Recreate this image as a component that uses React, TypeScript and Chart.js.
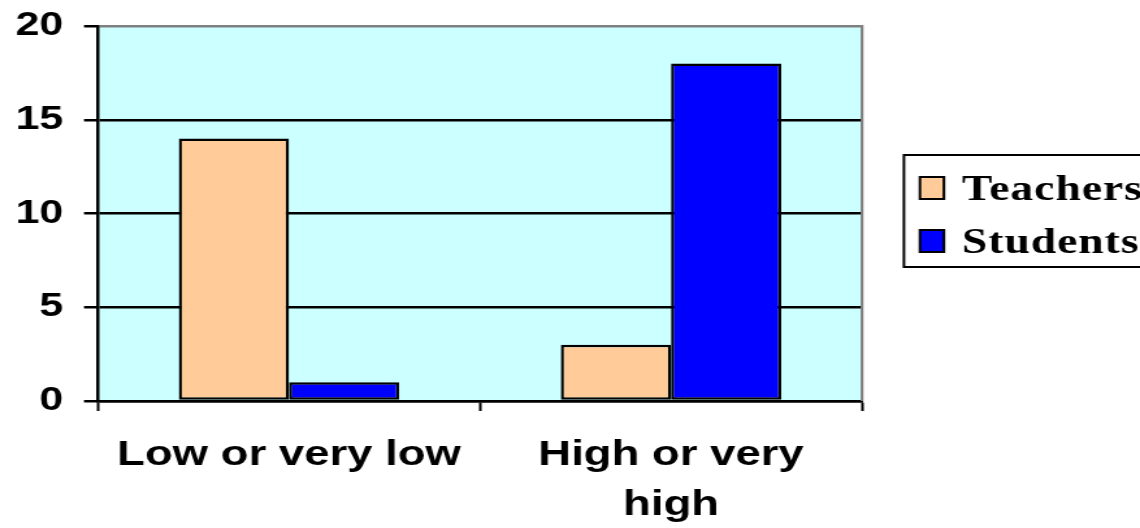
import React, { useEffect, useRef } from "react";
import { Chart, registerables } from "chart.js";

Chart.register(...registerables);

const categories: string[][] = [["Low or very low"], ["High or very", "high"]];
const teachers = [14, 3];
const students = [1, 18];
const seriesNames = ["Teachers", "Students"];
const seriesColors = ["#FFCC99", "#0000FF"];
const yMin = 0;
const yMax = 20;
const yStep = 5;

// horizontal stretch of the reference rendering
const SX = 1.3;
const W = Math.round(1140 / SX);
const H = 528;

const bgPlugin = {
  id: "plotBg",
  beforeDraw(chart: any) {
    const { ctx, chartArea } = chart;
    ctx.save();
    ctx.fillStyle = "#CCFFFF";
    ctx.fillRect(chartArea.left, chartArea.top, chartArea.right - chartArea.left, chartArea.bottom - chartArea.top);
    ctx.restore();
  },
  afterDraw(chart: any) {
    const { ctx, chartArea } = chart;
    ctx.save();
    ctx.strokeStyle = "#808080";
    ctx.lineWidth = 2.2;
    ctx.beginPath();
    ctx.moveTo(chartArea.right, chartArea.top - 1);
    ctx.lineTo(chartArea.right, chartArea.bottom);
    ctx.stroke();

    // legend
    const bx = 904 / SX;
    const by = 155;
    const bw = 1150 / SX - bx;
    const bh = 112;
    ctx.fillStyle = "#FFFFFF";
    ctx.fillRect(bx, by, bw, bh);
    ctx.strokeStyle = "#000000";
    ctx.lineWidth = 2;
    ctx.strokeRect(bx, by, bw, bh);
    const rows = [
      { sy: 177, base: 200 },
      { sy: 230, base: 253 },
    ];
    seriesNames.forEach((name, i) => {
      const r = rows[i];
      ctx.fillStyle = seriesColors[i];
      ctx.fillRect(920 / SX, r.sy, 24 / SX, 22);
      ctx.lineWidth = 2;
      ctx.strokeStyle = "#000";
      ctx.strokeRect(920 / SX, r.sy, 24 / SX, 22);
      ctx.fillStyle = "#000";
      ctx.font = "bold 35px 'Liberation Serif'";
      ctx.textAlign = "left";
      ctx.textBaseline = "alphabetic";
      (ctx as any).letterSpacing = "0.8px";
      ctx.fillText(name, 962 / SX, r.base);
      (ctx as any).letterSpacing = "0px";
    });
    ctx.restore();
  },
};

export default function App() {
  const ref = useRef<HTMLCanvasElement | null>(null);
  useEffect(() => {
    if (!ref.current) return;
    const chart = new Chart(ref.current, {
      type: "bar",
      data: {
        labels: categories as any,
        datasets: [
          {
            label: seriesNames[0],
            data: teachers,
            backgroundColor: seriesColors[0],
            borderColor: "#000",
            borderWidth: 2.4,
            borderSkipped: false,
          },
          {
            label: seriesNames[1],
            data: students,
            backgroundColor: seriesColors[1],
            borderColor: "#000",
            borderWidth: 2.4,
            borderSkipped: false,
          },
        ],
      },
      options: {
        responsive: false,
        animation: false,
        devicePixelRatio: 1,
        layout: { padding: { left: 0, right: (1140 - 862) / SX, top: 26, bottom: 0 } },
        plugins: { legend: { display: false }, tooltip: { enabled: false } },
        datasets: { bar: { categoryPercentage: 0.577, barPercentage: 1 } },
        scales: {
          x: {
            offset: true,
            grid: {
              offset: true,
              drawOnChartArea: false,
              drawTicks: true,
              tickLength: 10,
              tickColor: "#000",
              tickWidth: 2,
              color: "#000",
            },
            border: { color: "#000", width: 2.5 },
            ticks: {
              color: "#000",
              padding: 19,
              maxRotation: 0,
              autoSkip: false,
              font: { family: "'Liberation Sans'", size: 35, weight: "bold", lineHeight: 50 / 35 },
            },
            afterFit(scale: any) {
              scale.height = 528 - 401;
              scale.paddingLeft = 0;
              scale.paddingRight = 0;
            },
          },
          y: {
            min: yMin,
            max: yMax,
            grid: {
              color: (c: any) => (c.tick && c.tick.value === yMax ? "#808080" : "#000"),
              tickColor: "#000",
              lineWidth: 2.5,
              tickLength: 14 / SX,
            },
            border: { color: "#000", width: 2.5 },
            ticks: {
              stepSize: yStep,
              color: "#000",
              padding: 16,
              font: { family: "'Liberation Sans'", size: 33, weight: "bold" },
            },
            afterFit(scale: any) {
              scale.width = 98 / SX;
              scale.paddingTop = 0;
              scale.paddingBottom = 0;
            },
          },
        },
      },
      plugins: [bgPlugin],
    } as any);
    return () => chart.destroy();
  }, []);
  return (
    <div style={{ position: "fixed", left: 0, top: 0, width: 1140, height: 528, background: "#fff" }}>
      <canvas ref={ref} width={W} height={H} style={{ width: "1140px", height: "528px", display: "block" }} />
    </div>
  );
}
